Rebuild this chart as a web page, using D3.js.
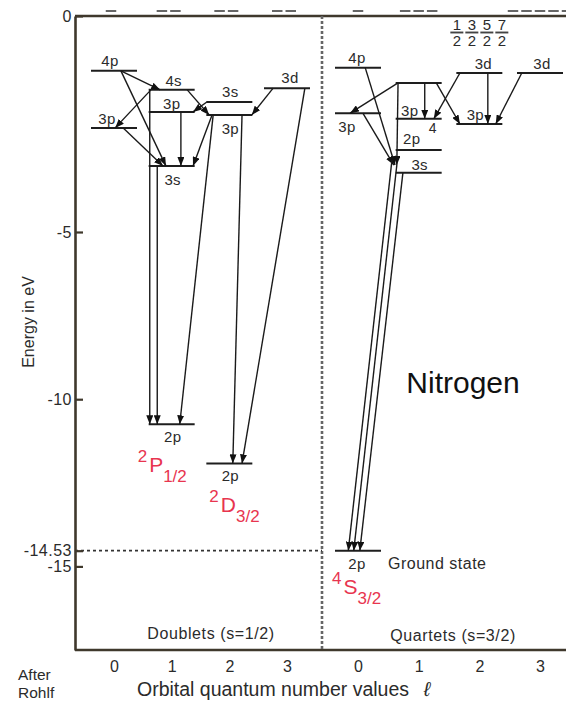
<!DOCTYPE html>
<html><head><meta charset="utf-8">
<script src="https://cdn.jsdelivr.net/npm/d3@7"></script>
<style>body{margin:0;background:#fff} svg{display:block}</style>
</head><body>
<script>
// ---------- data ----------
const yTickValues = [0, -5, -10, -14.53, -15];
const yTickLabels = ["0", "-5", "-10", "-14.53", "-15"];
const lTicks = [0, 1, 2, 3];
const groundEnergy = -14.53;

// doublet levels (s = 1/2)
const doubletNames  = ["4p", "4s", "3p", "3p", "3s", "3s", "3p", "3d", "2p", "2p"];
const doubletL      = [0, 1, 1, 0, 1, 2, 2, 3, 1, 2];
const doubletE      = [-1.27, -1.71, -2.22, -2.59, -3.47, -1.99, -2.29, -1.67, -10.75, -11.92];
// quartet levels (s = 3/2)
const quartetNames  = ["4p", "", "3p", "3p", "2p", "3s", "3p", "3d", "3d", "2p"];
const quartetL      = [0, 1, 0, 1, 1, 1, 2, 2, 3, 0];
const quartetE      = [-1.20, -1.55, -2.25, -2.38, -3.10, -3.63, -2.50, -1.32, -1.32, -14.53];

// transitions [l0, E0, l1, E1]
const doubletTrans = [
  [0.12, -1.27, 0.80, -1.71],
  [0.12, -1.27, 0.90, -3.47],
  [0.64, -1.71, 0.02, -2.59],
  [1.27, -1.71, 1.65, -2.29],
  [1.61, -1.99, 1.37, -2.22],
  [0.16, -2.59, 0.85, -3.47],
  [1.16, -2.22, 1.16, -3.47],
  [1.70, -2.29, 1.37, -3.47],
  [2.76, -1.67, 2.39, -2.29],
  [0.62, -1.71, 0.62, -10.75],
  [0.75, -3.47, 0.75, -10.75],
  [1.72, -2.29, 1.14, -10.75],
  [2.22, -2.29, 2.06, -11.92],
  [3.31, -1.67, 2.22, -11.92]
];
const quartetTrans = [
  [0.12, -1.20, 0.61, -3.45],
  [0.66, -1.55, -0.13, -2.25],
  [0.08, -2.25, 0.59, -3.45],
  [0.66, -1.55, 0.64, -3.45],
  [1.10, -1.55, 1.10, -2.38],
  [1.29, -1.55, 1.68, -2.50],
  [1.68, -1.32, 1.25, -2.38],
  [2.14, -1.32, 2.14, -2.50],
  [2.70, -1.32, 2.27, -2.50],
  [0.56, -3.33, -0.16, -14.53],
  [0.64, -3.45, -0.07, -14.53],
  [0.74, -3.63, 0.03, -14.53]
];

// J fractions over the quartet d column
const jNumerators = ["1", "3", "5", "7"];
const jDenominator = "2";
// cut-off fraction bars along the top edge
const topBarsDoublet = [1, 2, 2, 2];
const topBarsQuartet = [1, 3, 0, 5];

// ---------- layout ----------
const W = 566, H = 703;
const axisX = 75, topY = 16, botY = 650, dividerX = 322;
const y = d3.scaleLinear().domain([0, -5, -17.5]).range([topY, 232, botY]);
const xd = d3.scaleLinear().domain([0, 3]).range([114, 287]);
const xq = d3.scaleLinear().domain([0, 3]).range([358, 540]);
const halfW = 23;
const ink = "#1e1e1e", textCol = "#2b2b2b", frameCol = "#3f382c", red = "#e8354f";
const font = "'Liberation Sans', Arial, Helvetica, sans-serif";

const svg = d3.select("body").append("svg").attr("width", W).attr("height", H)
  .style("font-family", font);

svg.append("defs").append("marker")
  .attr("id", "ah").attr("viewBox", "0 -3.5 9 7")
  .attr("refX", 9).attr("refY", 0)
  .attr("markerWidth", 9).attr("markerHeight", 7)
  .attr("markerUnits", "userSpaceOnUse").attr("orient", "auto")
  .append("path").attr("d", "M0,-3.5L9,0L0,3.5Z").attr("fill", "#111");

// frame: top, bottom
svg.append("line").attr("x1", axisX).attr("x2", W).attr("y1", topY).attr("y2", topY)
  .attr("stroke", frameCol).attr("stroke-width", 2.4);
svg.append("line").attr("x1", axisX).attr("x2", W).attr("y1", botY).attr("y2", botY)
  .attr("stroke", frameCol).attr("stroke-width", 2.4);

// divider
svg.append("line").attr("x1", dividerX).attr("x2", dividerX).attr("y1", topY).attr("y2", botY)
  .attr("stroke", "#666").attr("stroke-width", 2.6).attr("stroke-dasharray", "3,2");

// ground dashed line
svg.append("line").attr("x1", axisX).attr("x2", dividerX).attr("y1", y(groundEnergy)).attr("y2", y(groundEnergy))
  .attr("stroke", "#333").attr("stroke-width", 1.7).attr("stroke-dasharray", "3,3");

// left axis
const yAxis = d3.axisLeft(y).tickValues(yTickValues)
  .tickFormat((d, i) => yTickLabels[i]).tickSizeInner(-8).tickSizeOuter(0).tickPadding(3);
const gy = svg.append("g").attr("transform", `translate(${axisX},0)`).call(yAxis);
gy.select(".domain").attr("stroke", frameCol).attr("stroke-width", 2.6);
gy.selectAll(".tick line").attr("stroke", frameCol).attr("stroke-width", 2.2);
gy.selectAll(".tick text").attr("fill", textCol).style("font-size", "16px")
  .style("letter-spacing", "0.5px").style("font-family", font);

// bottom tick labels
[xd, xq].forEach(sc => {
  const g = svg.append("g").attr("transform", `translate(0,${botY})`)
    .call(d3.axisBottom(sc).tickValues(lTicks).tickFormat(d3.format("d")).tickSize(0).tickPadding(11));
  g.select(".domain").remove();
  g.selectAll("text").attr("fill", textCol).style("font-size", "16px").style("font-family", font);
});

// top cut-off fraction bars
function topBars(counts, sc, shift) {
  counts.forEach((n, l) => {
    const pitch = 13.5, w = 10.5;
    const c = sc(l) + shift;
    for (let i = 0; i < n; i++) {
      const cx = c + (i - (n - 1) / 2) * pitch;
      svg.append("line").attr("x1", cx - w / 2).attr("x2", cx + w / 2)
        .attr("y1", 11).attr("y2", 11).attr("stroke", "#666").attr("stroke-width", 2);
    }
  });
}
topBars(topBarsDoublet, xd, -3);
topBars(topBarsQuartet, xq, 0);

// J fractions
jNumerators.forEach((num, i) => {
  const cx = xq(2) + (i - 1.5) * 15;
  svg.append("text").attr("x", cx).attr("y", 30).attr("text-anchor", "middle")
    .attr("fill", textCol).style("font-size", "15px").text(num);
  svg.append("line").attr("x1", cx - 6.5).attr("x2", cx + 6.5).attr("y1", 32.5).attr("y2", 32.5)
    .attr("stroke", "#444").attr("stroke-width", 1.9);
  svg.append("text").attr("x", cx).attr("y", 46).attr("text-anchor", "middle")
    .attr("fill", textCol).style("font-size", "15px").text(jDenominator);
});

// levels
const dLabelOff = [[-4, -5], [2, -4], [0, -3], [-7, -4], [1, 19], [1, -5], [1, 19], [3, -5], [1, 18], [1, 18]];
const qLabelOff = [[-1, -5], [0, 0], [-11, 19], [-9, -3], [-7, -6], [1, -3], [-4, -4], [4, -4], [2, -4], [-1, 18]];

function drawLevels(names, ls, es, sc, offs) {
  names.forEach((nm, i) => {
    const cx = sc(ls[i]), yy = y(es[i]);
    svg.append("line").attr("x1", cx - halfW).attr("x2", cx + halfW).attr("y1", yy).attr("y2", yy)
      .attr("stroke", ink).attr("stroke-width", 2);
    if (nm) {
      svg.append("text").attr("x", cx + offs[i][0]).attr("y", yy + offs[i][1])
        .attr("text-anchor", "middle").attr("fill", textCol).style("font-size", "15px")
        .style("letter-spacing", "0.3px").text(nm);
    }
  });
}
drawLevels(doubletNames, doubletL, doubletE, xd, dLabelOff);
drawLevels(quartetNames, quartetL, quartetE, xq, qLabelOff);
// superscript 4 on quartet 2p
svg.append("text").attr("x", xq(quartetL[4]) + 14).attr("y", y(quartetE[4]) - 17)
  .attr("text-anchor", "middle").attr("fill", textCol).style("font-size", "14px").text("4");

// transitions
function drawTrans(list, sc) {
  svg.append("g").selectAll("line").data(list).join("line")
    .attr("x1", d => sc(d[0])).attr("y1", d => y(d[1]))
    .attr("x2", d => sc(d[2])).attr("y2", d => y(d[3]))
    .attr("stroke", "#1a1a1a").attr("stroke-width", 1.4)
    .attr("marker-end", "url(#ah)");
}
drawTrans(doubletTrans, xd);
drawTrans(quartetTrans, xq);

// term symbols (red)
function term(x0, y0, sup, main, sub) {
  const t = svg.append("text").attr("x", x0).attr("y", y0).attr("fill", red);
  t.append("tspan").style("font-size", "17px").text(sup);
  t.append("tspan").attr("dx", 2).attr("dy", 10).style("font-size", "21px").text(main);
  t.append("tspan").attr("dy", 10).style("font-size", "17px").text(sub);
}
term(xd(doubletL[8]) - 34, y(doubletE[8]) + 38, "2", "P", "1/2");
term(xd(doubletL[9]) - 20, y(doubletE[9]) + 39, "2", "D", "3/2");
term(xq(quartetL[9]) - 26, y(quartetE[9]) + 33, "4", "S", "3/2");

// text annotations
svg.append("text").attr("x", xq(0) + 30).attr("y", y(groundEnergy) + 18)
  .attr("fill", textCol).style("font-size", "16px").style("letter-spacing", "0.5px").text("Ground state");
svg.append("text").attr("x", 463).attr("y", 393).attr("text-anchor", "middle")
  .attr("fill", "#111").style("font-size", "30px").text("Nitrogen");
svg.append("text").attr("x", 211).attr("y", 639).attr("text-anchor", "middle")
  .attr("fill", textCol).style("font-size", "16px").style("letter-spacing", "0.6px").text("Doublets (s=1/2)");
svg.append("text").attr("x", 453).attr("y", 641).attr("text-anchor", "middle")
  .attr("fill", textCol).style("font-size", "16px").style("letter-spacing", "0.6px").text("Quartets (s=3/2)");
svg.append("text").attr("x", 28).attr("y", 322).attr("text-anchor", "middle")
  .attr("transform", "rotate(-90,28,322)").attr("dy", "0.35em")
  .attr("fill", textCol).style("font-size", "16px").text("Energy in eV");
svg.append("text").attr("x", 273).attr("y", 696).attr("text-anchor", "middle")
  .attr("fill", textCol).style("font-size", "19.5px").text("Orbital quantum number values");
svg.append("text").attr("x", 427).attr("y", 696).attr("text-anchor", "middle")
  .attr("fill", textCol).style("font-size", "20px").style("font-style", "italic").text("ℓ");
svg.append("text").attr("x", 18).attr("y", 680).attr("fill", textCol).style("font-size", "15.5px").text("After");
svg.append("text").attr("x", 18).attr("y", 698).attr("fill", textCol).style("font-size", "15.5px").text("Rohlf");
</script>
</body></html>
